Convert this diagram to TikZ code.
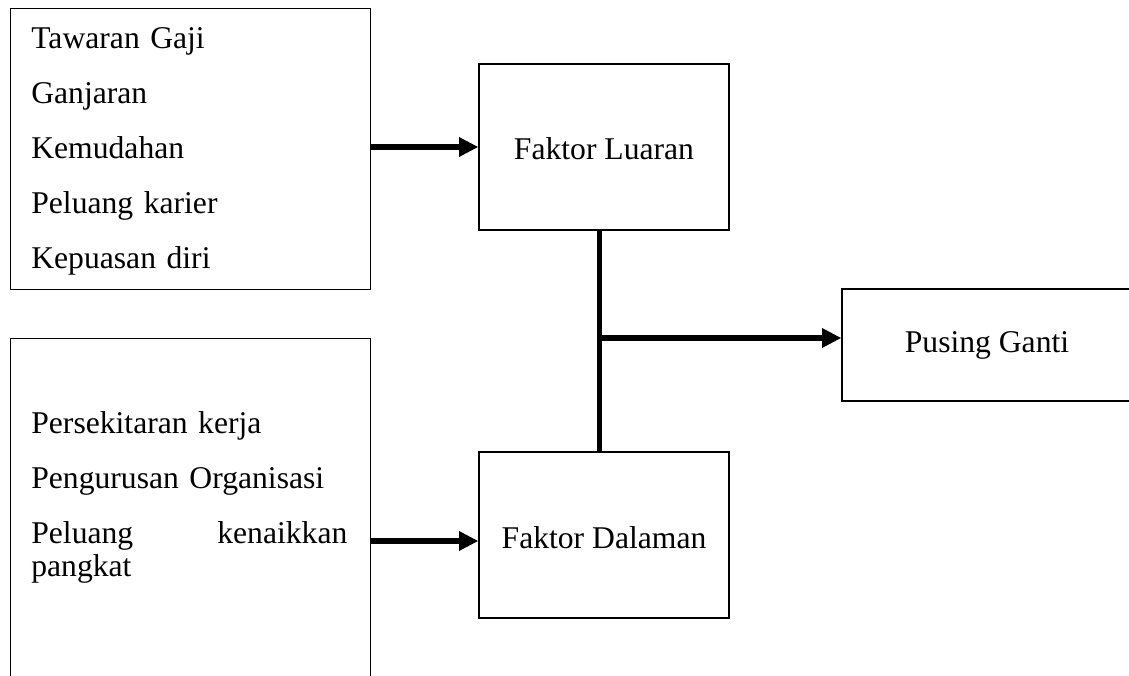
\documentclass[tikz,border=0pt]{standalone}
\usepackage{fontspec}
\setmainfont{Liberation Serif}
\usetikzlibrary{arrows.meta}

\tikzset{
  kotak/.style={draw, line width=0.7pt, minimum width=5cm, minimum height=3.32cm,
    text height=0.52cm, text depth=0cm, font=\fontsize{18}{18.7}\selectfont},
  senarai/.style={draw, line width=0.7pt, minimum width=7.2cm, inner sep=0pt},
  teks/.style={align=left, text width=6.32cm, inner sep=0pt,
    font=\fontsize{18}{18.7}\selectfont},
  anak/.style={-{Triangle[length=11pt,width=10.5pt]}, line width=3pt},
}

\begin{document}
\begin{tikzpicture}
            \useasboundingbox (0,0) rectangle (22.58,13.5);
            \clip (0,0) rectangle (22.58,13.5);

            % faktor luaran dan senarainya
            \node[senarai, minimum height=5.62cm, anchor=north west] (luar) at (0.2,13.34) {};
            \node[teks, anchor=north west] (luarteks) at (0.62,12.95)
                {Tawaran Gaji\\[12.5pt] Ganjaran\\[12.5pt] Kemudahan\\[12.5pt] Peluang karier\\[12.5pt] Kepuasan diri};
            \node[kotak] (luaran) at (12.08,10.56) {Faktor Luaran};

            % faktor dalaman (kotak terpotong di bawah)
            \node[senarai, minimum height=8cm, anchor=north west] (dalam) at (0.2,6.74) {};
            \node[teks, anchor=north west] (dalamteks) at (0.62,5.27)
                {Persekitaran kerja\\[12.5pt] Pengurusan Organisasi\\[12.5pt] Peluang \hfill kenaikkan\\ pangkat};
            \node[kotak] (dalaman) at (12.08,2.8) {Faktor Dalaman};

            \node[kotak, minimum width=5.8cm, minimum height=2.24cm, text height=0.5cm, text depth=0.22cm] (pusing) at (19.74,6.6) {Pusing Ganti};

            \coordinate (simpang) at (11.99,6.74);
            \coordinate (masuk) at ([yshift=-0.12cm]dalaman.west);

            \draw[anak] (luar.east |- luaran.west) -- (luaran.west);
            \draw[anak] (dalam.east |- masuk) -- (masuk);
            \draw[line width=3pt] (luaran.south -| simpang) -- (dalaman.north -| simpang);
            \draw[anak] (simpang) -- (pusing.west |- simpang);
        \end{tikzpicture}
\end{document}
